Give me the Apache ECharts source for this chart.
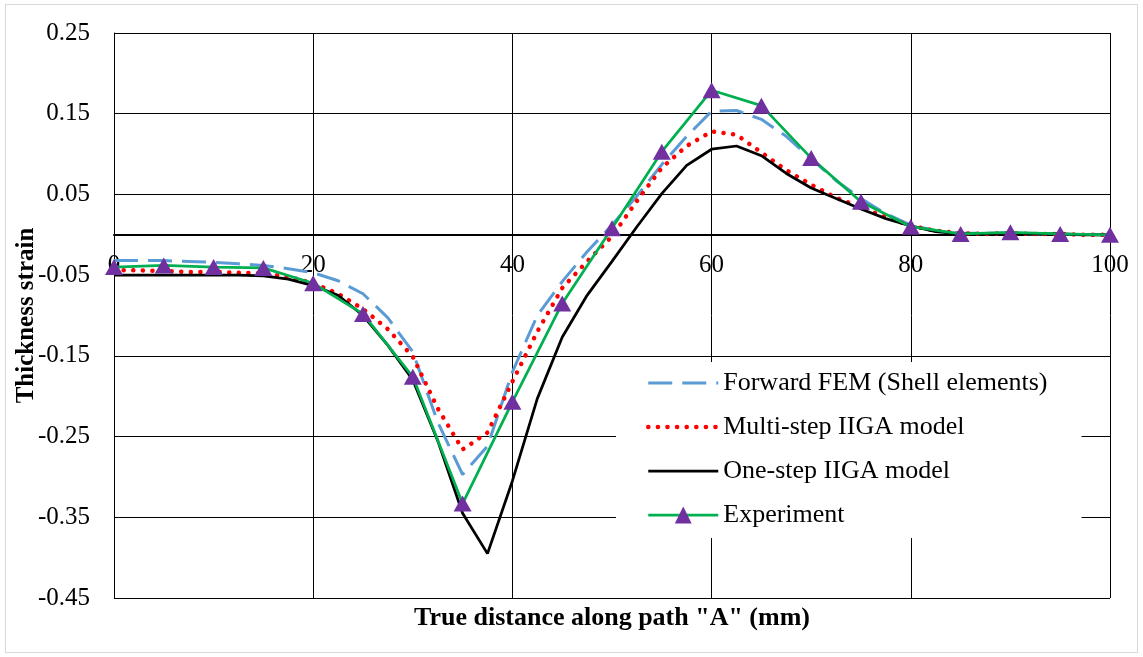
<!DOCTYPE html>
<html lang="en">
<head>
<meta charset="UTF-8">
<title>Thickness strain along path A</title>
<script src="https://cdn.jsdelivr.net/npm/echarts@6/dist/echarts.min.js"></script>
<style>
    body { margin: 0; background: #fff; }
    #main { width: 1143px; height: 657px; position: relative; }
    #frame { position: absolute; left: 5px; top: 4px; width: 1131px; height: 647px; border: 1px solid #d9d9d9; pointer-events: none; }
</style>
<script>
    // distances along the path (mm) for the simulated curves
    var xSim = [0, 2.5, 5, 7.5, 10, 12.5, 15, 17.5, 20, 22.5, 25, 27.5, 30, 32.5, 35, 37.5, 40, 42.5, 45, 47.5,
        50, 52.5, 55, 57.5, 60, 62.5, 65, 67.5, 70, 72.5, 75, 77.5, 80, 82.5, 85, 87.5, 90, 92.5, 95, 97.5, 100];

    var forwardFem = [-0.032, -0.032, -0.032, -0.033, -0.034, -0.036, -0.038, -0.042, -0.047, -0.057, -0.073, -0.103,
        -0.145, -0.232, -0.297, -0.262, -0.170, -0.100, -0.058, -0.021, 0.012, 0.048, 0.087, 0.122, 0.153, 0.154,
        0.143, 0.122, 0.094, 0.067, 0.045, 0.026, 0.012, 0.005, 0.002, 0.002, 0.002, 0.001, 0.001, 0.000, 0.000];

    var multiStep = [-0.044, -0.044, -0.045, -0.046, -0.046, -0.047, -0.048, -0.052, -0.060, -0.073, -0.092, -0.117,
        -0.151, -0.215, -0.266, -0.245, -0.182, -0.120, -0.066, -0.033, -0.002, 0.042, 0.083, 0.110, 0.128, 0.124,
        0.102, 0.080, 0.062, 0.046, 0.034, 0.022, 0.011, 0.005, 0.002, 0.001, 0.002, 0.001, 0.001, 0.000, 0.000];

    var oneStep = [-0.050, -0.050, -0.050, -0.050, -0.050, -0.050, -0.051, -0.055, -0.063, -0.075, -0.100, -0.137,
        -0.180, -0.255, -0.345, -0.395, -0.305, -0.203, -0.127, -0.075, -0.033, 0.010, 0.051, 0.086, 0.106, 0.110,
        0.098, 0.076, 0.058, 0.045, 0.032, 0.020, 0.011, 0.004, 0.001, 0.001, 0.002, 0.001, 0.001, 0.000, 0.000];

    // measured points
    var xExp = [0, 5, 10, 15, 20, 25, 30, 35, 40, 45, 50, 55, 60, 65, 70, 75, 80, 85, 90, 95, 100];
    var experiment = [-0.040, -0.038, -0.040, -0.041, -0.060, -0.098, -0.176, -0.333, -0.207, -0.085, 0.008, 0.103,
        0.179, 0.160, 0.095, 0.041, 0.010, 0.001, 0.003, 0.001, 0.000];

    var seriesNames = ['Forward FEM (Shell elements)', 'Multi-step IIGA model', 'One-step IIGA model', 'Experiment'];

    var xTicks = { min: 0, max: 100, step: 20 };
    var yTicks = { min: -0.45, max: 0.25, step: 0.1 };

    function pairs(xs, ys) {
        var out = [];
        for (var i = 0; i < xs.length; i++) {
            out.push([xs[i], ys[i]]);
        }
        return out;
    }

    window.onload = function () {
        var mychart = echarts.init(document.getElementById('main'), null, { renderer: 'canvas' });
        var font = 'Liberation Serif';
        var gridTop = 33, gridBottom = 59, chartH = 657;

        // gridline at -0.05 is not drawn in the original
        var gridColors = ['#000', '#000', '#000', '#000', 'rgba(0,0,0,0)', '#000', '#000', '#000'];

        // x axis sits on y = 0, labels just under it
        var plotH = chartH - gridTop - gridBottom;
        var zeroY = gridTop + (yTicks.max - 0) / (yTicks.max - yTicks.min) * plotH;
        var xOffset = zeroY - (chartH - gridBottom);

        // no marker in the legend for the plain line series
        var noMarker = { color: 'rgba(0,0,0,0)', borderColor: 'rgba(0,0,0,0)', borderWidth: 0 };

        var option = {
            backgroundColor: '#fff',
            animation: false,
            grid: { left: 114, right: 33, top: gridTop, bottom: gridBottom, outerBoundsMode: 'none' },
            legend: {
                orient: 'vertical',
                left: 616,
                top: 362,
                padding: [8, 34, 10, 30],
                backgroundColor: '#fff',
                itemWidth: 70,
                itemHeight: 21,
                itemGap: 18,
                textStyle: { fontFamily: font, fontSize: 26, color: '#000' },
                data: [
                    { name: seriesNames[0], itemStyle: noMarker, lineStyle: { width: 3 } },
                    { name: seriesNames[1], itemStyle: noMarker, lineStyle: { width: 4.5 } },
                    { name: seriesNames[2], itemStyle: noMarker, lineStyle: { width: 2.75 } },
                    { name: seriesNames[3], lineStyle: { width: 2.75 } }
                ]
            },
            graphic: [{
                type: 'text',
                x: 612,
                y: 618,
                style: {
                    text: 'True distance along path "A" (mm)',
                    font: 'bold 26px "Liberation Serif"',
                    fill: '#000',
                    align: 'center',
                    verticalAlign: 'middle'
                }
            }],
            xAxis: {
                type: 'value',
                min: xTicks.min,
                max: xTicks.max,
                interval: xTicks.step,
                position: 'bottom',
                offset: xOffset,
                axisLine: { onZero: false, lineStyle: { color: '#000', width: 2 } },
                axisTick: { show: false },
                axisLabel: { margin: 18, fontFamily: font, fontSize: 25, color: '#000' },
                splitLine: { show: true, lineStyle: { color: '#000', width: 1 } }
            },
            yAxis: {
                type: 'value',
                min: yTicks.min,
                max: yTicks.max,
                interval: yTicks.step,
                name: 'Thickness strain',
                nameLocation: 'middle',
                nameGap: 75,
                nameMoveOverlap: false,
                nameTextStyle: { fontFamily: font, fontSize: 25, fontWeight: 'bold', color: '#000' },
                axisLine: { show: true, lineStyle: { color: '#000', width: 1 } },
                axisTick: { show: false },
                axisLabel: {
                    margin: 24, fontFamily: font, fontSize: 25, color: '#000',
                    formatter: function (v) { return v.toFixed(2); }
                },
                splitLine: { show: true, lineStyle: { color: gridColors, width: 1 } }
            },
            series: [
                {
                    name: seriesNames[0],
                    type: 'line',
                    data: pairs(xSim, forwardFem),
                    symbol: 'none',
                    color: '#5b9bd5',
                    lineStyle: { color: '#5b9bd5', width: 3, type: [24, 10] }
                },
                {
                    name: seriesNames[1],
                    type: 'line',
                    data: pairs(xSim, multiStep),
                    symbol: 'none',
                    color: '#ff0000',
                    lineStyle: { color: '#ff0000', width: 4.5, type: [0.1, 9.5], cap: 'round' }
                },
                {
                    name: seriesNames[2],
                    type: 'line',
                    data: pairs(xSim, oneStep),
                    symbol: 'none',
                    color: '#000',
                    lineStyle: { color: '#000', width: 2.75 }
                },
                {
                    name: seriesNames[3],
                    type: 'line',
                    data: pairs(xExp, experiment),
                    symbol: 'triangle',
                    symbolSize: [18, 16],
                    color: '#00b050',
                    itemStyle: { color: '#7030a0' },
                    lineStyle: { color: '#00b050', width: 2.75 }
                }
            ]
        };
        mychart.setOption(option);
    };
</script>
</head>
<body>
    <div id="main"></div>
    <div id="frame"></div>
</body>
</html>
